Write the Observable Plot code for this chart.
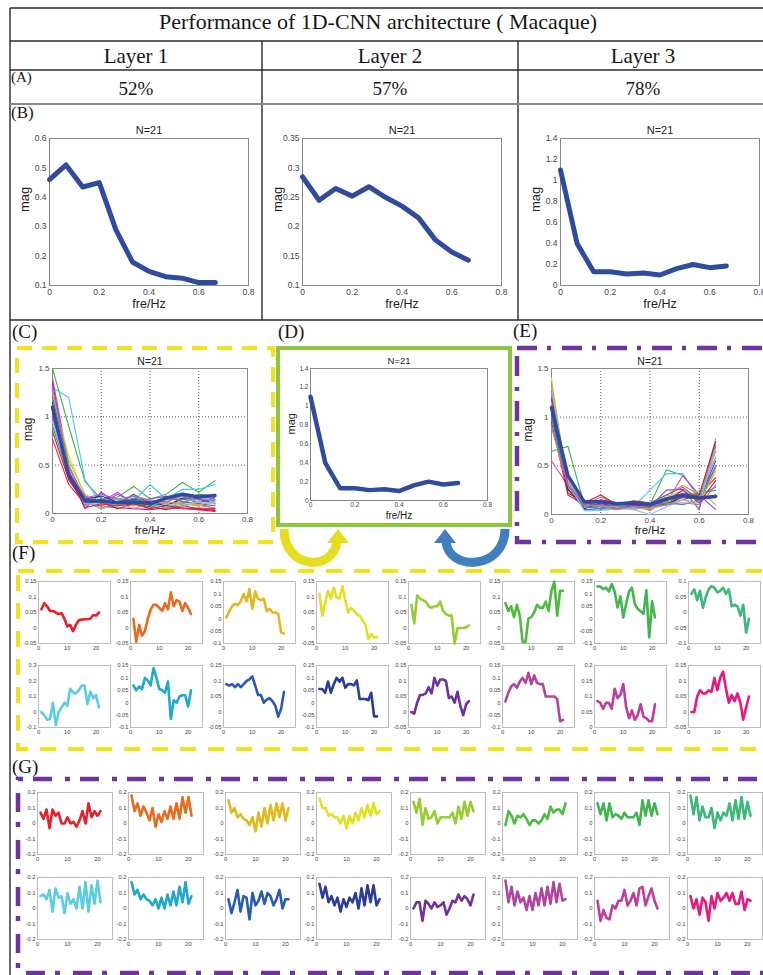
<!DOCTYPE html>
<html><head><meta charset="utf-8">
<script src="https://cdn.jsdelivr.net/npm/d3@7"></script>
<script src="https://cdn.jsdelivr.net/npm/@observablehq/plot@0.6"></script>
<style>
html,body{margin:0;padding:0;background:#fff}
body{width:763px;height:975px;position:relative;overflow:hidden;font-family:"Liberation Sans",Arial,sans-serif}
#root{position:absolute;left:0;top:0;width:763px;height:975px}
.t{position:absolute;font-family:"Liberation Serif","Times New Roman",serif;color:#161616;white-space:nowrap}
.c{text-align:center}
</style></head><body>
<div id="root"></div>
<script>
// ---------------- DATA ----------------
const title = "Performance of 1D-CNN architecture ( Macaque)";
const layerNames = ["Layer 1", "Layer 2", "Layer 3"];
const accuracies = ["52%", "57%", "78%"];
const panelLetters = ["(A)", "(B)", "(C)", "(D)", "(E)", "(F)", "(G)"];

const freq = [0, 0.0667, 0.1333, 0.2, 0.2667, 0.3333, 0.4, 0.4667, 0.5333, 0.6, 0.6667];
const freqTicks = [0, 0.2, 0.4, 0.6, 0.8];

const layer1Mag = [0.46, 0.51, 0.435, 0.45, 0.29, 0.18, 0.148, 0.13, 0.125, 0.11, 0.11];
const layer2Mag = [0.285, 0.245, 0.265, 0.252, 0.268, 0.25, 0.235, 0.215, 0.178, 0.157, 0.143];
const layer3Mag = [1.1, 0.4, 0.13, 0.13, 0.11, 0.12, 0.1, 0.16, 0.2, 0.17, 0.185];
const layer1Ticks = [0.1, 0.2, 0.3, 0.4, 0.5, 0.6];
const layer2Ticks = [0.1, 0.15, 0.2, 0.25, 0.3, 0.35];
const layer3Ticks = [0, 0.2, 0.4, 0.6, 0.8, 1, 1.2, 1.4];
const spreadTicks = [0, 0.5, 1, 1.5];

// (C) individual filter spectra
const cSpectra = [
  [1.5, 0.9, 0.33, 0.15, 0.17, 0.28, 0.15, 0.2, 0.32, 0.22, 0.34],
  [1.3, 1.2, 0.35, 0.1, 0.15, 0.13, 0.3, 0.15, 0.25, 0.25, 0.3],
  [1.4, 0.5, 0.15, 0.12, 0.22, 0.1, 0.1, 0.12, 0.2, 0.1, 0.05],
  [0.77, 0.3, 0.1, 0.08, 0.06, 0.05, 0.04, 0.06, 0.05, 0.04, 0.02],
  [1.2, 0.6, 0.18, 0.1, 0.07, 0.12, 0.06, 0.1, 0.12, 0.15, 0.1],
  [1.1, 0.4, 0.1, 0.2, 0.14, 0.12, 0.05, 0.15, 0.18, 0.1, 0.08],
  [1.35, 0.45, 0.05, 0.22, 0.1, 0.2, 0.1, 0.08, 0.15, 0.12, 0.14],
  [0.95, 0.35, 0.12, 0.06, 0.1, 0.08, 0.12, 0.05, 0.1, 0.08, 0.06],
  [0.9, 0.4, 0.14, 0.1, 0.12, 0.18, 0.08, 0.12, 0.1, 0.18, 0.15],
  [1.0, 0.45, 0.08, 0.15, 0.1, 0.05, 0.12, 0.1, 0.05, 0.06, 0.04],
  [1.25, 0.55, 0.2, 0.12, 0.15, 0.1, 0.14, 0.13, 0.16, 0.12, 0.2],
  [1.05, 0.5, 0.12, 0.05, 0.08, 0.14, 0.1, 0.06, 0.12, 0.16, 0.12],
  [0.85, 0.35, 0.1, 0.12, 0.05, 0.1, 0.07, 0.04, 0.08, 0.05, 0.03],
  [1.15, 0.4, 0.15, 0.18, 0.12, 0.15, 0.12, 0.08, 0.16, 0.15, 0.1],
  [1.0, 0.42, 0.18, 0.1, 0.2, 0.12, 0.15, 0.18, 0.12, 0.1, 0.17],
  [1.2, 0.5, 0.1, 0.15, 0.1, 0.16, 0.1, 0.15, 0.14, 0.2, 0.18],
  [1.1, 0.5, 0.13, 0.12, 0.12, 0.08, 0.1, 0.12, 0.1, 0.09, 0.12],
  [0.95, 0.4, 0.1, 0.1, 0.09, 0.06, 0.05, 0.1, 0.07, 0.12, 0.1],
  [1.05, 0.38, 0.06, 0.1, 0.08, 0.1, 0.05, 0.08, 0.06, 0.04, 0.05],
  [1.3, 0.48, 0.16, 0.2, 0.15, 0.18, 0.14, 0.12, 0.18, 0.14, 0.15]
];
// (E) individual filter spectra
const eSpectra = [
  [0.65, 0.7, 0.1, 0.08, 0.1, 0.12, 0.1, 0.46, 0.4, 0.2, 0.28],
  [1.1, 0.25, 0.1, 0.12, 0.1, 0.08, 0.25, 0.42, 0.42, 0.15, 0.78],
  [0.55, 0.3, 0.08, 0.1, 0.1, 0.12, 0.1, 0.12, 0.4, 0.2, 0.05],
  [0.95, 0.2, 0.1, 0.1, 0.08, 0.1, 0.07, 0.1, 0.15, 0.2, 0.38],
  [1.4, 0.3, 0.1, 0.12, 0.1, 0.1, 0.12, 0.18, 0.25, 0.2, 0.6],
  [1.2, 0.35, 0.05, 0.06, 0.05, 0.08, 0.08, 0.25, 0.26, 0.05, 0.7],
  [1.3, 0.3, 0.12, 0.08, 0.06, 0.1, 0.1, 0.15, 0.2, 0.15, 0.55],
  [1.35, 0.28, 0.08, 0.1, 0.12, 0.05, 0.1, 0.2, 0.3, 0.2, 0.65],
  [1.0, 0.25, 0.1, 0.06, 0.1, 0.08, 0.05, 0.12, 0.2, 0.22, 0.25],
  [1.15, 0.3, 0.1, 0.18, 0.1, 0.1, 0.04, 0.15, 0.25, 0.15, 0.72],
  [0.9, 0.28, 0.12, 0.1, 0.08, 0.12, 0.06, 0.2, 0.16, 0.25, 0.1],
  [1.25, 0.32, 0.12, 0.1, 0.1, 0.08, 0.1, 0.16, 0.22, 0.2, 0.58],
  [1.1, 0.22, 0.12, 0.2, 0.1, 0.14, 0.12, 0.1, 0.2, 0.2, 0.75],
  [1.05, 0.26, 0.06, 0.12, 0.06, 0.1, 0.08, 0.1, 0.18, 0.16, 0.2],
  [1.2, 0.4, 0.12, 0.1, 0.08, 0.1, 0.12, 0.2, 0.28, 0.15, 0.5],
  [1.0, 0.3, 0.08, 0.06, 0.1, 0.06, 0.08, 0.12, 0.1, 0.15, 0.48],
  [1.15, 0.35, 0.1, 0.08, 0.08, 0.06, 0.06, 0.1, 0.15, 0.12, 0.45],
  [1.3, 0.32, 0.04, 0.04, 0.06, 0.05, 0.0, 0.08, 0.15, 0.1, 0.68],
  [1.2, 0.3, 0.1, 0.15, 0.12, 0.1, 0.1, 0.14, 0.25, 0.12, 0.35],
  [0.9, 0.3, 0.1, 0.08, 0.06, 0.08, 0.08, 0.1, 0.12, 0.1, 0.3]
];
const spectraColors = ["#3cb44b","#42c8f0","#d03cc8","#e6194b","#e8e020","#4363d8","#7b2fa8","#f58231","#20a0a0","#f060a0",
                       "#a0d030","#60b0f0","#c02020","#3030a0","#9050d0","#30a070","#d0b020","#80c8f0","#d02050","#c060d0"];

// (F) kernel weights, layer 1 filters
const kernelIndex = [1,2,3,4,5,6,7,8,9,10,11,12,13,14,15,16,17,18,19,20,21];
const kernelTicks = [0, 10, 20];
const fKernels = [
  [0.06,0.08,0.07,0.055,0.055,0.05,0.045,0.048,0.03,0.005,0.01,-0.01,0.01,0.025,0.027,0.028,0.028,0.03,0.042,0.04,0.05],
  [0.03,-0.045,0.01,-0.025,-0.01,0.03,0.06,0.075,0.075,0.065,0.055,0.08,0.06,0.115,0.07,0.09,0.085,0.055,0.08,0.065,0.045],
  [0.005,0.03,0.05,0.06,0.055,0.07,0.1,0.07,0.12,0.04,0.11,0.08,0.075,0.08,0.03,0.04,0.025,0.025,0.02,-0.055,-0.06],
  [0.11,0.04,0.08,0.12,0.095,0.13,0.1,0.095,0.135,0.09,0.05,0.065,0.055,0.045,0.04,0.025,0.01,-0.035,-0.02,-0.03,-0.03],
  [0.075,0.015,0.105,0.095,0.09,0.085,0.07,0.065,0.07,0.07,0.085,0.055,0.045,0.04,0.04,-0.05,0.0,0.0,0.0,0.002,0.008],
  [0.08,0.055,0.07,0.035,0.075,0.04,-0.045,-0.045,0.03,0.035,0.05,0.075,0.065,0.065,0.085,0.055,0.12,0.15,0.04,0.12,0.12],
  [0.13,0.13,0.12,0.125,0.11,0.14,0.11,0.045,0.09,0.005,0.06,0.11,0.125,0.06,0.04,0.03,0.02,0.115,-0.075,0.07,0.005],
  [0.06,0.075,0.04,0.07,0.015,0.05,0.075,0.085,0.08,0.065,0.07,0.08,0.06,0.075,0.02,0.025,0.02,-0.01,0.025,-0.065,-0.02],
  [0.0,-0.02,-0.05,-0.045,0.06,-0.085,0.0,0.03,0.06,0.04,0.15,0.125,0.12,0.14,0.17,0.17,0.05,0.13,0.09,0.11,0.03],
  [0.07,0.05,0.065,0.055,0.1,0.09,0.07,0.14,0.1,0.055,0.05,0.04,0.085,-0.065,0.01,0.0,0.025,0.03,0.03,-0.015,0.05],
  [0.09,0.085,0.09,0.08,0.09,0.08,0.09,0.1,0.105,0.115,0.085,0.055,0.055,0.03,0.04,0.045,0.035,0.02,-0.015,0.01,0.065],
  [0.055,0.055,0.04,0.085,0.04,0.075,0.1,0.085,0.1,0.06,0.075,0.075,0.07,0.09,0.015,0.015,0.015,0.01,0.04,-0.055,-0.055],
  [0.0,-0.005,0.03,0.055,0.055,0.06,0.08,0.06,0.11,0.085,0.105,0.105,0.1,0.045,0.05,0.03,0.065,0.02,-0.01,0.025,0.035],
  [0.005,0.04,0.065,0.075,0.06,0.085,0.1,0.08,0.12,0.075,0.11,0.08,0.075,0.075,0.025,0.025,0.025,0.025,0.015,-0.075,-0.07],
  [0.085,0.08,0.06,0.08,0.08,0.06,0.125,0.095,0.105,0.14,0.065,0.03,0.055,0.025,0.04,0.075,0.035,0.03,0.02,0.02,0.075],
  [0.0,0.0,0.05,0.07,0.06,0.06,0.07,0.065,0.11,0.07,0.11,0.13,0.075,0.03,0.055,0.035,0.06,0.03,-0.025,0.015,0.05]
];
const fDomains = [[-0.05,0.15],[-0.05,0.15],[-0.1,0.15],[-0.05,0.15],[-0.05,0.15],[-0.05,0.15],[-0.1,0.15],[-0.1,0.1],
                  [-0.1,0.3],[-0.1,0.15],[-0.05,0.15],[-0.1,0.15],[-0.05,0.15],[-0.1,0.15],[0,0.2],[-0.05,0.15]];
const fTicks = [-0.1,-0.05,0,0.05,0.1,0.15,0.2];
const fTicksWide = [-0.1,0,0.1,0.2,0.3];

// (G) kernel weights, layer 3 filters
const gKernels = [
  [0.07,0.03,0.09,-0.03,0.09,0.05,0.07,0.0,0.0,0.04,0.0,0.01,-0.02,0.02,0.08,0.0,0.13,0.04,0.08,0.05,0.08],
  [0.18,0.08,0.13,0.05,0.11,0.07,0.02,0.1,-0.02,0.06,0.01,0.08,0.03,0.11,0.03,0.13,0.03,0.17,0.07,0.17,0.05],
  [0.15,0.07,0.1,0.04,0.06,0.03,0.02,-0.01,0.04,-0.05,0.07,-0.02,0.1,0.0,0.12,0.02,0.13,0.04,0.13,0.02,0.1],
  [0.16,0.1,0.1,0.05,0.06,0.04,0.04,0.0,0.05,-0.03,0.05,0.0,0.07,0.02,0.1,0.04,0.12,0.05,0.13,0.06,0.08],
  [0.14,0.07,0.16,-0.01,0.1,0.03,0.04,0.08,0.0,0.04,0.04,0.04,0.04,0.07,0.0,0.11,0.03,0.14,0.05,0.14,0.08],
  [-0.01,0.08,0.05,0.0,0.05,0.04,0.06,0.03,-0.01,0.02,0.02,0.0,0.02,0.06,0.03,0.11,0.07,0.09,0.09,0.06,0.13],
  [0.13,0.06,0.13,0.02,0.13,0.04,0.06,0.05,0.03,0.07,0.04,0.04,0.04,0.07,-0.01,0.15,0.05,0.15,0.05,0.13,0.06],
  [0.18,0.06,0.17,0.02,0.11,0.04,0.04,0.1,-0.03,0.07,0.02,0.07,0.05,0.13,0.02,0.15,0.03,0.17,0.03,0.14,0.05],
  [0.08,0.09,0.06,0.12,-0.02,0.13,0.07,0.08,-0.03,0.1,0.03,0.06,0.0,0.14,0.0,0.17,-0.02,0.15,0.03,0.18,0.04],
  [0.17,0.09,0.12,0.06,0.09,0.06,0.05,0.02,0.06,0.0,0.07,0.0,0.09,0.02,0.11,0.02,0.14,0.04,0.17,0.03,0.08],
  [0.06,-0.03,0.04,0.12,-0.02,0.08,0.07,-0.07,0.1,0.02,0.05,0.11,0.03,0.1,0.08,0.02,0.06,0.12,0.0,0.06,0.06],
  [0.16,0.07,0.14,0.04,0.08,0.02,0.07,-0.02,0.06,0.01,0.07,0.04,0.1,0.0,0.13,0.02,0.15,0.04,0.15,0.02,0.06],
  [0.0,0.04,0.04,-0.08,0.05,0.03,0.0,0.04,0.01,0.02,0.04,-0.04,0.0,0.05,0.04,0.09,0.05,0.08,0.06,0.02,0.09],
  [0.18,0.04,0.14,0.02,0.11,0.04,0.07,-0.01,0.08,-0.01,0.1,0.02,0.13,0.02,0.14,0.03,0.17,0.04,0.16,0.05,0.06],
  [0.05,-0.08,-0.01,-0.06,-0.07,0.02,0.0,0.05,0.05,0.12,0.02,0.05,0.1,0.02,0.13,0.14,0.02,0.08,0.13,0.05,0.0],
  [0.08,0.0,0.06,-0.04,0.07,0.04,-0.08,0.08,0.0,0.1,0.05,0.07,0.1,0.05,0.1,0.03,0.03,0.11,-0.01,0.06,0.05]
];
const gDomain = [-0.2, 0.2];
const gTicks = [-0.2, -0.1, 0, 0.1, 0.2];
const kernelColors = ["#e8202a","#ea6a1e","#e2b81c","#e0e020","#96cc30","#4cbc3c","#44b450","#3cb878",
                      "#5ccde0","#1ea8cc","#2a5ab8","#2c3c9c","#7030a0","#b0459f","#c03c9c","#e8187c"];
const meanBlue = "#2f4b9f";

// ---------------- HELPERS ----------------
const root = document.getElementById("root");
const fmt = d => String(d);
function addText(txt, cls, css) {
  const d = document.createElement("div");
  d.className = "t " + (cls || "");
  d.textContent = txt;
  Object.assign(d.style, css);
  root.appendChild(d);
}
const lab = (txt, o) => Plot.text([txt], {text: d => d, fill: "#222", ...o});
function panel(p) {
  const svg = Plot.plot({
    width: p.w + p.ml + p.mr, height: p.h + p.mt + p.mb,
    marginLeft: p.ml, marginRight: p.mr, marginTop: p.mt, marginBottom: p.mb,
    x: {domain: p.xDomain}, y: {domain: p.yDomain},
    color: {type: "identity"},
    style: {fontSize: p.fs + "px", fontFamily: "'Liberation Sans', Arial, sans-serif", background: "transparent", color: "#444", overflow: "visible"},
    marks: [
      ...(p.grid ? [
        Plot.gridX({ticks: p.xTicks, stroke: "#444", strokeOpacity: 0.9, strokeDasharray: "1,2"}),
        Plot.gridY({ticks: p.yTicks, stroke: "#444", strokeOpacity: 0.9, strokeDasharray: "1,2"})] : []),
      Plot.frame({stroke: p.frameColor || "#888", strokeWidth: 1}),
      Plot.axisX({ticks: p.xTicks, tickFormat: fmt, tickSize: 0, tickPadding: p.tp || 3, label: null}),
      Plot.axisY({ticks: p.yTicks, tickFormat: fmt, tickSize: 0, tickPadding: p.tp || 3, label: null}),
      ...p.marks
    ]
  });
  svg.style.position = "absolute";
  svg.style.maxWidth = "none";
  svg.style.left = (p.left - p.ml) + "px";
  svg.style.top = (p.top - p.mt) + "px";
  root.appendChild(svg);
}
const toRows = ys => ys.map((y, i) => ({x: freq[i], y}));

// ---------------- DECORATION (table lines, boxes, arrows) ----------------
const NS = "http://www.w3.org/2000/svg";
const deco = document.createElementNS(NS, "svg");
deco.setAttribute("width", 763); deco.setAttribute("height", 975);
deco.style.cssText = "position:absolute;left:0;top:0";
deco.innerHTML = `
 <g stroke="#2a2a2a" stroke-width="1.4" fill="none">
  <line x1="10" y1="8" x2="763" y2="8"/>
  <line x1="10" y1="8" x2="10" y2="975"/>
  <line x1="10" y1="41" x2="763" y2="41"/>
  <line x1="10" y1="70" x2="763" y2="70"/>
  <line x1="10" y1="320" x2="763" y2="320"/>
  <line x1="262" y1="41" x2="262" y2="320"/>
  <line x1="518" y1="41" x2="518" y2="320"/>
 </g>
 <line x1="10" y1="104" x2="763" y2="104" stroke="#8a8a8a" stroke-width="2.2"/>
 <rect x="17" y="348" width="256" height="194" fill="none" stroke="#f2e21a" stroke-width="4" stroke-dasharray="15,10"/>
 <rect x="278" y="348" width="232" height="177" fill="none" stroke="#8cc63f" stroke-width="4"/>
 <rect x="517" y="348" width="270" height="194" fill="none" stroke="#6f33a0" stroke-width="4.5" stroke-dasharray="20,10,4,11"/>
 <rect x="18" y="571" width="770" height="178" fill="none" stroke="#f2e21a" stroke-width="4" stroke-dasharray="16,12"/>
 <rect x="18" y="779" width="770" height="194" fill="none" stroke="#6f33a0" stroke-width="4.5" stroke-dasharray="5,10,19,13"/>
 <path d="M284 529 C284 570, 334 572, 337 541" fill="none" stroke="#e6dc20" stroke-width="9"/>
 <path d="M338 529 L327 543 L349 543 Z" fill="#e6dc20"/>
 <path d="M505 529 C505 570, 448 572, 446 541" fill="none" stroke="#3f7fc0" stroke-width="9"/>
 <path d="M445 529 L434 543 L456 543 Z" fill="#3f7fc0"/>
`;
root.appendChild(deco);

// ---------------- HEADER TEXT ----------------
addText(title, "c", {left: "0px", width: "756px", top: "6px", lineHeight: "32px", fontSize: "22px"});
const colL = [10, 262, 518], colW = [252, 256, 250];
layerNames.forEach((n, i) => addText(n, "c", {left: colL[i] + "px", width: colW[i] + "px", top: "41px", lineHeight: "30px", fontSize: "21px"}));
accuracies.forEach((n, i) => addText(n, "c", {left: colL[i] + "px", width: colW[i] + "px", top: "74px", lineHeight: "30px", fontSize: "19px"}));
addText(panelLetters[0], "", {left: "11px", top: "68px", lineHeight: "18px", fontSize: "15px"});
addText(panelLetters[1], "", {left: "11px", top: "103px", lineHeight: "20px", fontSize: "17px"});
addText(panelLetters[2], "", {left: "12px", top: "321px", lineHeight: "22px", fontSize: "19px"});
addText(panelLetters[3], "", {left: "278px", top: "321px", lineHeight: "22px", fontSize: "19px"});
addText(panelLetters[4], "", {left: "513px", top: "320px", lineHeight: "22px", fontSize: "19px"});
addText(panelLetters[5], "", {left: "12px", top: "542px", lineHeight: "22px", fontSize: "19px"});
addText(panelLetters[6], "", {left: "12px", top: "756px", lineHeight: "22px", fontSize: "19px"});

// ---------------- (B) average spectra per layer ----------------
const bPanels = [
  {left: 49, mag: layer1Mag, dom: [0.1, 0.6], ticks: layer1Ticks},
  {left: 302, mag: layer2Mag, dom: [0.1, 0.35], ticks: layer2Ticks},
  {left: 560, mag: layer3Mag, dom: [0, 1.4], ticks: layer3Ticks}
];
bPanels.forEach(b => panel({
  left: b.left, top: 138, w: 199, h: 147, ml: 32, mr: 8, mt: 24, mb: 32, fs: 8.5,
  xDomain: [0, 0.8], xTicks: freqTicks, yDomain: b.dom, yTicks: b.ticks,
  marks: [
    Plot.line(toRows(b.mag), {x: "x", y: "y", stroke: meanBlue, strokeWidth: 5}),
    lab("N=21", {frameAnchor: "top", dy: -12, fontSize: 11}),
    lab("fre/Hz", {frameAnchor: "bottom", dy: 22, fontSize: 12.5}),
    lab("mag", {frameAnchor: "left", dx: -25, rotate: -90, fontSize: 13})
  ]
}));

// ---------------- (C) (D) (E) ----------------
const spreadRows = arr => arr.flatMap((ys, s) => ys.map((y, i) => ({s, x: freq[i], y, c: spectraColors[s % spectraColors.length]})));
panel({
  left: 52, top: 368, w: 195, h: 145, ml: 28, mr: 6, mt: 20, mb: 28, fs: 8, grid: true,
  xDomain: [0, 0.8], xTicks: freqTicks, yDomain: [0, 1.5], yTicks: spreadTicks,
  marks: [
    Plot.line(spreadRows(cSpectra), {x: "x", y: "y", z: "s", stroke: "c", strokeWidth: 1.1}),
    Plot.line(toRows(layer3Mag), {x: "x", y: "y", stroke: meanBlue, strokeWidth: 3.5}),
    lab("N=21", {frameAnchor: "top", dy: -11, fontSize: 10.5}),
    lab("fre/Hz", {frameAnchor: "bottom", dy: 20, fontSize: 11.5}),
    lab("mag", {frameAnchor: "left", dx: -24, rotate: -90, fontSize: 12})
  ]
});
panel({
  left: 310, top: 368, w: 177, h: 132, ml: 24, mr: 6, mt: 20, mb: 24, fs: 6.5, tp: 2,
  xDomain: [0, 0.8], xTicks: freqTicks, yDomain: [0, 1.4], yTicks: layer3Ticks,
  marks: [
    Plot.line(toRows(layer3Mag), {x: "x", y: "y", stroke: meanBlue, strokeWidth: 4.5}),
    lab("N=21", {frameAnchor: "top", dy: -11, fontSize: 9.5}),
    lab("fre/Hz", {frameAnchor: "bottom", dy: 18, fontSize: 10}),
    lab("mag", {frameAnchor: "left", dx: -19, rotate: -90, fontSize: 11})
  ]
});
panel({
  left: 551, top: 368, w: 197, h: 146, ml: 28, mr: 6, mt: 20, mb: 28, fs: 8, grid: true,
  xDomain: [0, 0.8], xTicks: freqTicks, yDomain: [0, 1.5], yTicks: spreadTicks,
  marks: [
    Plot.line(spreadRows(eSpectra), {x: "x", y: "y", z: "s", stroke: "c", strokeWidth: 1.1}),
    Plot.line(toRows(layer3Mag), {x: "x", y: "y", stroke: meanBlue, strokeWidth: 3.5}),
    lab("N=21", {frameAnchor: "top", dy: -11, fontSize: 10.5}),
    lab("fre/Hz", {frameAnchor: "bottom", dy: 19, fontSize: 11.5}),
    lab("mag", {frameAnchor: "left", dx: -23, rotate: -90, fontSize: 12})
  ]
});

// ---------------- (F) and (G) small kernels ----------------
const kRows = ys => ys.map((y, i) => ({x: kernelIndex[i], y}));
const fLefts = [38, 130, 223, 316, 408, 502, 594, 688];
const fTops = [581, 665];
fKernels.forEach((ys, k) => {
  const dom = fDomains[k];
  const base = (dom[1] - dom[0]) > 0.3 ? fTicksWide : fTicks;
  const ticks = base.filter(t => t >= dom[0] - 1e-9 && t <= dom[1] + 1e-9);
  panel({
    left: fLefts[k % 8], top: fTops[Math.floor(k / 8)], w: 72, h: 62, ml: 24, mr: 2, mt: 4, mb: 12, fs: 5.8, tp: 2,
    frameColor: "#bbb",
    xDomain: [0, 25], xTicks: kernelTicks, yDomain: dom, yTicks: ticks,
    marks: [Plot.line(kRows(ys), {x: "x", y: "y", stroke: kernelColors[k], strokeWidth: 2.6})]
  });
});
const gLefts = [37, 128, 225, 316, 410, 502, 594, 687];
const gTops = [792, 877];
gKernels.forEach((ys, k) => {
  panel({
    left: gLefts[k % 8], top: gTops[Math.floor(k / 8)], w: 75, h: 62, ml: 24, mr: 2, mt: 4, mb: 12, fs: 5.8, tp: 2,
    frameColor: "#bbb",
    xDomain: [0, 25], xTicks: kernelTicks, yDomain: gDomain, yTicks: gTicks,
    marks: [Plot.line(kRows(ys), {x: "x", y: "y", stroke: kernelColors[k], strokeWidth: 2.6})]
  });
});
</script>
</body></html>
